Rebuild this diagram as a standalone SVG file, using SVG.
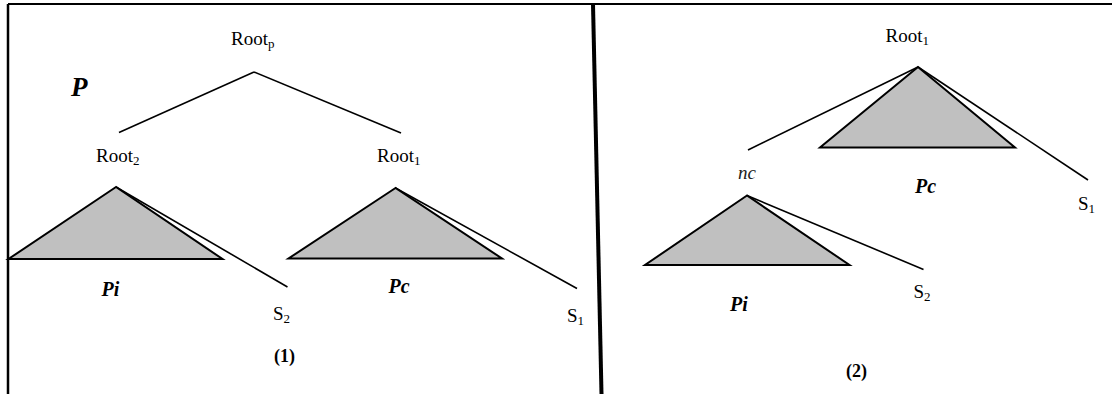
<svg xmlns="http://www.w3.org/2000/svg" width="1112" height="394" viewBox="0 0 1112 394">
<style>
.t{font-family:"Liberation Serif","Times New Roman",serif;font-size:19px;fill:#000}
.sub{font-size:13px}
.bi{font-family:"Liberation Serif","Times New Roman",serif;font-size:20px;font-weight:bold;font-style:italic;fill:#000}
.b{font-family:"Liberation Serif","Times New Roman",serif;font-size:18px;font-weight:bold;fill:#000}
.edge{stroke:#000;stroke-width:1.6;fill:none}
.tri{fill:#c0c0c0;stroke:#000;stroke-width:2;stroke-linejoin:miter}
.frame{stroke:#000;fill:none}
</style>
<rect x="0" y="0" width="1112" height="394" fill="#fff"/>
<g id="frame">
<line class="frame" x1="8" y1="4" x2="1112" y2="4" stroke-width="2"/>
<line class="frame" x1="8" y1="4" x2="8" y2="394" stroke-width="2.5"/>
<line class="frame" x1="593" y1="4" x2="601.5" y2="394" stroke-width="4"/>
</g>
<g id="connectors">
<line class="edge" x1="254" y1="72" x2="119" y2="132.5"/>
<line class="edge" x1="254" y1="72" x2="401" y2="133"/>
<line class="edge" x1="116" y1="187" x2="287.5" y2="287"/>
<line class="edge" x1="395.5" y1="188" x2="577" y2="288.5"/>
<line class="edge" x1="918" y1="67" x2="748" y2="150"/>
<line class="edge" x1="918" y1="67" x2="1088" y2="180"/>
<line class="edge" x1="747" y1="195.5" x2="923.5" y2="269.5"/>
</g>
<g id="label-P"><text class="bi" x="71" y="96" style="font-size:27px">P</text></g>
<g id="node-rootp"><text class="t" x="231" y="45">Root<tspan class="sub" dy="3">p</tspan></text></g>
<g id="node-root2-left"><text class="t" x="96" y="162">Root<tspan class="sub" dy="3">2</tspan></text></g>
<g id="node-root1-left"><text class="t" x="377" y="162">Root<tspan class="sub" dy="3">1</tspan></text></g>
<g id="tree-pi-left">
<polygon class="tri" points="116,187 8.5,259 222.5,259"/>
<text class="bi" x="101.5" y="296">Pi</text>
</g>
<g id="leaf-s2-left"><text class="t" x="273" y="320">S<tspan class="sub" dy="3">2</tspan></text></g>
<g id="tree-pc-left">
<polygon class="tri" points="395.5,188 288.5,258.5 502,258.5"/>
<text class="bi" x="388.5" y="293">Pc</text>
</g>
<g id="leaf-s1-left"><text class="t" x="567" y="322">S<tspan class="sub" dy="3">1</tspan></text></g>
<g id="caption-1"><text class="b" x="284.5" y="362" text-anchor="middle">(1)</text></g>
<g id="node-root1-right"><text class="t" x="885.5" y="42">Root<tspan class="sub" dy="3">1</tspan></text></g>
<g id="tree-pc-right">
<polygon class="tri" points="918,67 820,147.5 1015,147.5"/>
<text class="bi" x="915" y="193">Pc</text>
</g>
<g id="leaf-s1-right"><text class="t" x="1078" y="210">S<tspan class="sub" dy="3">1</tspan></text></g>
<g id="node-nc"><text class="t" x="738" y="179" style="font-style:italic;font-size:19px;fill:#222">nc</text></g>
<g id="tree-pi-right">
<polygon class="tri" points="747,195.5 645,265 849.5,265"/>
<text class="bi" x="730" y="311">Pi</text>
</g>
<g id="leaf-s2-right"><text class="t" x="913.5" y="298">S<tspan class="sub" dy="3">2</tspan></text></g>
<g id="caption-2"><text class="b" x="856.5" y="377" text-anchor="middle">(2)</text></g>
</svg>
